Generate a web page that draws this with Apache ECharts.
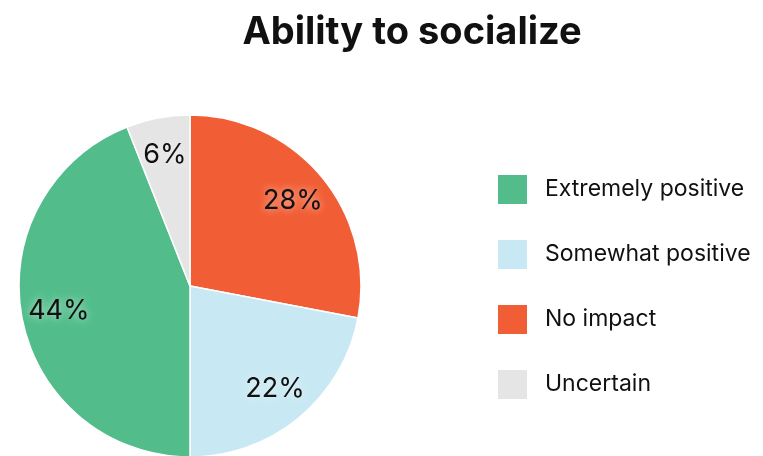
<!DOCTYPE html>
<html>
<head>
<meta charset="utf-8">
<script src="https://cdn.jsdelivr.net/npm/echarts@6/dist/echarts.min.js"></script>
<style>
  html, body { margin: 0; padding: 0; background: #fff; }
  #chart { width: 763px; height: 456px; }
</style>
</head>
<body>
<div id="chart"></div>
<script>
// slices in clockwise order from 12 o'clock
const categories = ['No impact', 'Somewhat positive', 'Extremely positive', 'Uncertain'];
const values = [28, 22, 44, 6];
const legendOrder = ['Extremely positive', 'Somewhat positive', 'No impact', 'Uncertain'];
const colors = ['#F15D34', '#C8E9F3', '#52BD8B', '#E5E5E5'];

const pieData = categories.map((name, i) => ({
  name: name,
  value: values[i],
  itemStyle: { color: colors[i] },
}));

const chart = echarts.init(document.getElementById('chart'));
chart.setOption({
  animation: false,
  title: {
    text: 'Ability to socialize',
    left: 407,
    textAlign: 'center',
    top: 9,
    textStyle: {
      fontFamily: 'Inter',
      fontSize: 38,
      fontWeight: 'bold',
      color: '#111',
    },
  },
  legend: {
    data: legendOrder,
    orient: 'vertical',
    left: 498,
    top: 175,
    padding: 0,
    itemWidth: 29,
    itemHeight: 29,
    itemGap: 36,
    icon: 'rect',
    itemStyle: { borderWidth: 0 },
    textStyle: {
      fontFamily: 'Inter',
      fontSize: 23,
      lineHeight: 29,
      color: '#111',
      padding: [0, 0, 0, 13],
    },
  },
  series: [
    {
      name: 'main',
      type: 'pie',
      center: [190, 286],
      radius: [0, 171],
      startAngle: 90,
      clockwise: true,
      label: { show: false },
      labelLine: { show: false },
      itemStyle: { borderColor: '#fff', borderWidth: 1.5 },
      emphasis: { disabled: true },
      data: pieData,
    },
    {
      // transparent ring just for placing labels at ~3/4 of the radius
      name: 'labels',
      type: 'pie',
      center: [190, 286],
      radius: [90, 171],
      startAngle: 90,
      clockwise: true,
      silent: true,
      itemStyle: { color: 'rgba(0,0,0,0)' },
      label: {
        show: true,
        position: 'inside',
        formatter: '{c}%',
        fontFamily: 'Inter',
        fontSize: 27,
        color: '#111',
        textShadowColor: 'rgba(255,255,255,0.7)',
        textShadowBlur: 8,
      },
      labelLine: { show: false },
      emphasis: { disabled: true },
      data: categories.map((name, i) => ({ name: name, value: values[i] })),
    },
  ],
});
</script>
</body>
</html>
